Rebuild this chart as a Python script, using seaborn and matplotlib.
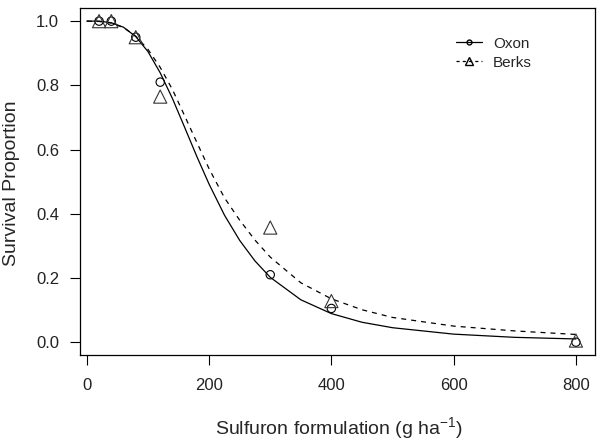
import matplotlib
matplotlib.use("Agg")
import matplotlib.pyplot as plt
import pandas as pd
import seaborn as sns
from matplotlib.lines import Line2D

# observed survival proportions
dose = [20, 40, 80, 120, 300, 400, 800]
oxon_obs = [1.00, 1.00, 0.95, 0.81, 0.21, 0.105, 0.0]
berks_obs = [1.00, 1.00, 0.95, 0.765, 0.357, 0.128, 0.005]

# fitted dose-response curves
curve_dose = [0, 20, 40, 60, 80, 100, 120, 140, 160, 180, 200, 225, 250,
              275, 300, 350, 400, 450, 500, 600, 700, 800]
oxon_fit = [1.0, 1.0, 0.995, 0.981, 0.952, 0.905, 0.839, 0.759, 0.669, 0.578,
            0.492, 0.396, 0.317, 0.253, 0.202, 0.132, 0.089, 0.062, 0.045,
            0.025, 0.015, 0.010]
berks_fit = [1.0, 0.999, 0.994, 0.980, 0.953, 0.912, 0.856, 0.787, 0.705,
             0.622, 0.540, 0.450, 0.380, 0.318, 0.265, 0.185, 0.135, 0.101,
             0.077, 0.050, 0.035, 0.024]

xticks = [0, 200, 400, 600, 800]
yticks = [0.0, 0.2, 0.4, 0.6, 0.8, 1.0]

sns.set_style("ticks")
plt.rcParams["font.family"] = ["Liberation Sans", "DejaVu Sans"]
plt.rcParams["mathtext.fontset"] = "custom"
plt.rcParams["mathtext.rm"] = "Liberation Sans"
plt.rcParams["mathtext.it"] = "Liberation Sans"

curves = pd.DataFrame({"dose": curve_dose, "oxon": oxon_fit, "berks": berks_fit})
obs = pd.DataFrame({"dose": dose, "oxon": oxon_obs, "berks": berks_obs})

fig = plt.figure(figsize=(6.01, 4.42), dpi=100)
ax = fig.add_axes([80 / 601, 1 - 355 / 442, 515 / 601, 346.7 / 442])

sns.lineplot(data=curves, x="dose", y="oxon", ax=ax, color="black", lw=0.9, sort=False)
sns.lineplot(data=curves, x="dose", y="berks", ax=ax, color="black", lw=0.9,
             sort=False, linestyle=(0, (4, 4)))
sns.scatterplot(data=obs, x="dose", y="oxon", ax=ax, marker="o", s=36,
                fc="none", ec="black", linewidth=0.8, zorder=3)
sns.scatterplot(data=obs, x="dose", y="berks", ax=ax, marker="^", s=90,
                fc="none", ec="#333333", linewidth=0.8, zorder=3)

ax.set_xlim(-11.2, 831.2)
ax.set_ylim(-0.04, 1.04)
ax.set_xticks(xticks)
ax.set_yticks(yticks)
ax.set_xticklabels([str(t) for t in xticks])
ax.set_yticklabels([f"{t:.1f}" for t in yticks])
ax.tick_params(axis="both", direction="out", length=7.5, width=0.8,
               labelsize=12, color="black", labelcolor="#222222")
ax.tick_params(axis="x", pad=9)
ax.tick_params(axis="y", pad=7.5)
for sp in ax.spines.values():
    sp.set_visible(True)
    sp.set_color("black")
    sp.set_linewidth(0.9)

ax.set_xlabel("Sulfuron formulation (g ha$^{-1}$)", fontsize=14)
ax.set_ylabel("Survival Proportion", fontsize=14)
ax.xaxis.set_label_coords(0.503, -0.172)
ax.yaxis.set_label_coords(-0.116, 0.495)

handles = [
    Line2D([], [], color="black", lw=0.9, marker="o", ms=3.5, mfc="none", mec="black"),
    Line2D([], [], color="black", lw=0.9, ls=(0, (2.5, 2.5)), marker="^", ms=6,
           mfc="none", mec="black"),
]
ax.legend(handles, ["Oxon", "Berks"], loc="upper left", bbox_to_anchor=(0.731, 0.918),
          frameon=False, fontsize=11, borderpad=0, borderaxespad=0,
          handlelength=1.65, handletextpad=0.75, labelspacing=0.32)

fig.savefig("out.png", dpi=100)
